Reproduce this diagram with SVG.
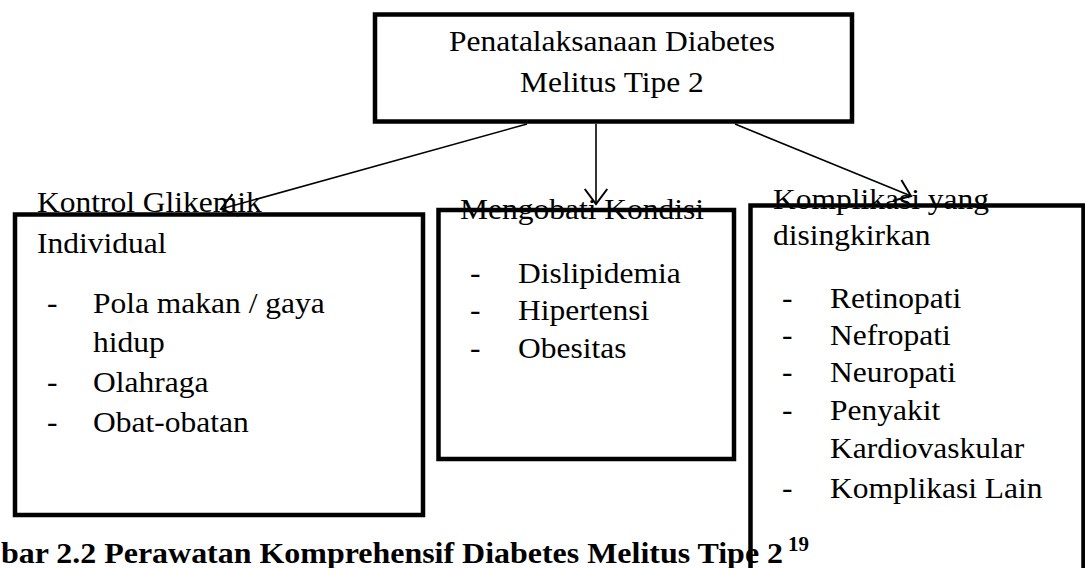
<svg xmlns="http://www.w3.org/2000/svg" width="1085" height="568" viewBox="0 0 1085 568">
<style>
.t{font-family:"Liberation Serif","Times New Roman",serif;font-size:30px;fill:#000}
.c{font-family:"Liberation Serif","Times New Roman",serif;font-size:30px;font-weight:bold;fill:#000}
.s{font-family:"Liberation Serif","Times New Roman",serif;font-size:20px;font-weight:bold;fill:#000}
.box{fill:none;stroke:#000;stroke-width:4.5}
.conn{fill:none;stroke:#000;stroke-width:1.6}
</style>
<defs>
<marker id="arr" markerUnits="userSpaceOnUse" markerWidth="30" markerHeight="30" refX="0" refY="0" viewBox="-16 -12 20 24" orient="auto" overflow="visible">
<path d="M-12,-9 L0,0 L-12,9" fill="none" stroke="#000" stroke-width="1.6"/>
</marker>
</defs>
<rect width="1085" height="568" fill="#fff"/>
<g id="root">
<rect class="box" x="375" y="14.5" width="477" height="107"/>
<text class="t" text-anchor="middle" transform="translate(612 51) scale(1.05 1)">Penatalaksanaan Diabetes</text>
<text class="t" text-anchor="middle" transform="translate(612 92) scale(1.05 1)">Melitus Tipe 2</text>
</g>
<g id="kontrol">
<text class="t" transform="translate(37 212) scale(1.05 1)">Kontrol Glikemik</text>
<rect class="box" x="15" y="214.5" width="408" height="300.5"/>
<text class="t" transform="translate(37 253) scale(1.05 1)">Individual</text>
<text class="t" transform="translate(47 313) scale(1.05 1)">-</text>
<text class="t" transform="translate(93 313) scale(1.05 1)">Pola makan / gaya</text>
<text class="t" transform="translate(93 352) scale(1.05 1)">hidup</text>
<text class="t" transform="translate(47 392) scale(1.05 1)">-</text>
<text class="t" transform="translate(93 392) scale(1.05 1)">Olahraga</text>
<text class="t" transform="translate(47 432) scale(1.05 1)">-</text>
<text class="t" transform="translate(93 432) scale(1.05 1)">Obat-obatan</text>
</g>
<g id="mengobati">
<text class="t" transform="translate(460 219) scale(1.05 1)">Mengobati Kondisi</text>
<rect class="box" x="438.5" y="210" width="295.5" height="249"/>
<text class="t" transform="translate(470 283) scale(1.05 1)">-</text>
<text class="t" transform="translate(518 283) scale(1.05 1)">Dislipidemia</text>
<text class="t" transform="translate(470 320) scale(1.05 1)">-</text>
<text class="t" transform="translate(518 320) scale(1.05 1)">Hipertensi</text>
<text class="t" transform="translate(470 358) scale(1.05 1)">-</text>
<text class="t" transform="translate(518 358) scale(1.05 1)">Obesitas</text>
</g>
<g id="caption">
<text class="c" transform="translate(1 563) scale(1.065 1)">bar 2.2 Perawatan Komprehensif Diabetes Melitus Tipe 2</text>
<text class="s" transform="translate(788 551) scale(1.05 1)">19</text>
</g>
<g id="komplikasi">
<text class="t" transform="translate(773 209) scale(1.05 1)">Komplikasi yang</text>
<rect class="box" x="750.5" y="205.5" width="333" height="380"/>
<text class="t" transform="translate(773 245) scale(1.05 1)">disingkirkan</text>
<text class="t" transform="translate(782 308) scale(1.05 1)">-</text>
<text class="t" transform="translate(830 308) scale(1.05 1)">Retinopati</text>
<text class="t" transform="translate(782 345) scale(1.05 1)">-</text>
<text class="t" transform="translate(830 345) scale(1.05 1)">Nefropati</text>
<text class="t" transform="translate(782 382) scale(1.05 1)">-</text>
<text class="t" transform="translate(830 382) scale(1.05 1)">Neuropati</text>
<text class="t" transform="translate(782 420) scale(1.05 1)">-</text>
<text class="t" transform="translate(830 420) scale(1.05 1)">Penyakit</text>
<text class="t" transform="translate(830 458) scale(1.05 1)">Kardiovaskular</text>
<text class="t" transform="translate(782 498) scale(1.05 1)">-</text>
<text class="t" transform="translate(830 498) scale(1.05 1)">Komplikasi Lain</text>
</g>
<g id="connectors">
<line class="conn" x1="527" y1="124" x2="221" y2="209" marker-end="url(#arr)"/>
<line class="conn" x1="596" y1="124" x2="596" y2="204" marker-end="url(#arr)"/>
<line class="conn" x1="735" y1="124" x2="911" y2="196" marker-end="url(#arr)"/>
</g>
</svg>
